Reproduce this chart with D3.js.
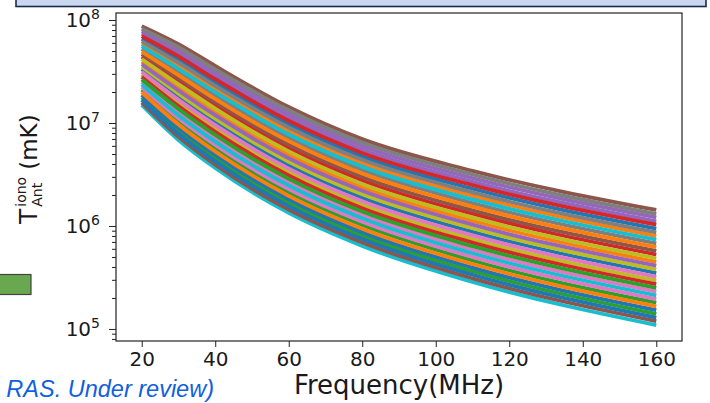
<!DOCTYPE html>
<html>
<head>
<meta charset="utf-8">
<script src="https://cdn.jsdelivr.net/npm/d3@7"></script>
<style>
  body { margin: 0; background: #fff; }
  svg { display: block; font-family: "DejaVu Sans", sans-serif; }
</style>
</head>
<body>
<svg id="chart" width="710" height="403"></svg>
<script>
var freqs = [20, 30, 40, 60, 80, 110, 160];

// T_Ant^iono (mK), one row per curve, in plotting order
var tAnt = [
  [3.32e7, 1.80e7, 1.02e7, 3.90e6, 1.88e6, 8.78e5, 3.49e5],
  [5.86e7, 3.60e7, 2.14e7, 8.38e6, 4.07e6, 1.96e6, 7.99e5],
  [2.10e7, 1.04e7, 5.69e6, 2.12e6, 1.02e6, 4.62e5, 1.80e5],
  [4.41e7, 2.54e7, 1.48e7, 5.72e6, 2.77e6, 1.31e6, 5.28e5],
  [7.36e7, 4.74e7, 2.87e7, 1.14e7, 5.53e6, 2.69e6, 1.11e6],
  [8.72e7, 5.83e7, 3.58e7, 1.43e7, 6.97e6, 3.43e6, 1.43e6],
  [2.50e7, 1.27e7, 7.09e6, 2.66e6, 1.28e6, 5.88e5, 2.31e5],
  [5.23e7, 3.13e7, 1.85e7, 7.19e6, 3.49e6, 1.67e6, 6.77e5],
  [2.96e7, 1.57e7, 8.85e6, 3.35e6, 1.61e6, 7.48e5, 2.96e5],
  [1.50e7, 6.84e6, 3.66e6, 1.34e6, 6.40e5, 2.86e5, 1.09e5],
  [6.57e7, 4.13e7, 2.48e7, 9.77e6, 4.74e6, 2.30e6, 9.44e5],
  [3.93e7, 2.22e7, 1.28e7, 4.91e6, 2.37e6, 1.12e6, 4.48e5],
  [1.77e7, 8.42e6, 4.56e6, 1.68e6, 8.06e5, 3.64e5, 1.40e5],
  [2.80e7, 1.46e7, 8.22e6, 3.10e6, 1.49e6, 6.90e5, 2.72e5],
  [7.79e7, 5.08e7, 3.09e7, 1.23e7, 5.98e6, 2.92e6, 1.21e6],
  [4.67e7, 2.73e7, 1.59e7, 6.17e6, 2.99e6, 1.42e6, 5.74e5],
  [2.23e7, 1.11e7, 6.12e6, 2.28e6, 1.10e6, 5.01e5, 1.95e5],
  [8.24e7, 5.44e7, 3.32e7, 1.33e7, 6.46e6, 3.16e6, 1.31e6],
  [3.51e7, 1.93e7, 1.10e7, 4.21e6, 2.03e6, 9.51e5, 3.79e5],
  [5.54e7, 3.36e7, 1.99e7, 7.77e6, 3.77e6, 1.81e6, 7.36e5],
  [1.88e7, 9.02e6, 4.91e6, 1.82e6, 8.71e5, 3.94e5, 1.52e5],
  [4.94e7, 2.92e7, 1.71e7, 6.66e6, 3.23e6, 1.54e6, 6.23e5],
  [2.64e7, 1.37e7, 7.64e6, 2.87e6, 1.38e6, 6.37e5, 2.51e5],
  [6.95e7, 4.43e7, 2.66e7, 1.05e7, 5.12e6, 2.49e6, 1.03e6],
  [3.72e7, 2.07e7, 1.19e7, 4.55e6, 2.20e6, 1.03e6, 4.12e5],
  [1.58e7, 7.33e6, 3.94e6, 1.44e6, 6.91e5, 3.10e5, 1.19e5],
  [3.13e7, 1.68e7, 9.52e6, 3.61e6, 1.74e6, 8.10e5, 3.21e5],
  [6.20e7, 3.85e7, 2.30e7, 9.05e6, 4.39e6, 2.12e6, 8.68e5],
  [4.17e7, 2.38e7, 1.38e7, 5.30e6, 2.56e6, 1.21e6, 4.86e5],
  [2.36e7, 1.19e7, 6.59e6, 2.47e6, 1.19e6, 5.43e5, 2.12e5],
  [1.68e7, 7.86e6, 4.24e6, 1.56e6, 7.46e5, 3.36e5, 1.29e5],
  [1.99e7, 9.67e6, 5.29e6, 1.96e6, 9.40e5, 4.27e5, 1.66e5]
];

var xTicks = [20, 40, 60, 80, 100, 120, 140, 160];
var yTicks = [1e5, 1e6, 1e7, 1e8];
var yExp = ["5", "6", "7", "8"];

var svgWidth = 710, svgHeight = 403;
var margin = { top: 13, right: 28, bottom: 62, left: 116 };
var width = svgWidth - margin.left - margin.right;
var height = svgHeight - margin.top - margin.bottom;

var svg = d3.select("#chart");

// slide decorations around the figure
svg.append("rect")
  .attr("x", 16).attr("y", -4).attr("width", 690).attr("height", 10.5)
  .attr("fill", "#c9d8f0").attr("stroke", "#1c2a4a").attr("stroke-width", 1.6);

svg.append("rect")
  .attr("x", -2).attr("y", 274.5).attr("width", 33).attr("height", 20)
  .attr("fill", "#6aa84f").attr("stroke", "#444").attr("stroke-width", 1.2);

svg.append("text")
  .attr("x", 214).attr("y", 397)
  .attr("text-anchor", "end")
  .attr("font-family", "'Liberation Sans', Arial, sans-serif")
  .attr("font-style", "italic")
  .attr("font-size", 23.5)
  .attr("fill", "#1160dc")
  .text("RAS. Under review)");

var chart = svg.append("g")
  .attr("transform", "translate(" + margin.left + "," + margin.top + ")");

var xScale = d3.scaleLinear().domain([13, 167]).range([0, width]);
var yScale = d3.scaleLog().domain([7.64e4, 1.17e8]).range([height, 0]);

var color = d3.scaleOrdinal(d3.schemeCategory10);

var line = d3.line()
  .x(function(d, i) { return xScale(freqs[i]); })
  .y(function(d) { return yScale(d); })
  .curve(d3.curveMonotoneX);

chart.selectAll(".curve")
  .data(tAnt)
  .enter().append("path")
    .attr("class", "curve")
    .attr("d", line)
    .attr("fill", "none")
    .attr("stroke", function(d, i) { return color(i); })
    .attr("stroke-width", 3.8);

// x axis
var xAxis = chart.append("g")
  .attr("transform", "translate(0," + height + ")")
  .call(d3.axisBottom(xScale).tickValues(xTicks).tickSizeOuter(0).tickSize(6).tickPadding(5));
xAxis.selectAll("text").attr("font-size", 20).attr("fill", "#1a1a1a")
  .attr("font-family", "'DejaVu Sans', sans-serif");

// y axis, minor ticks first
var minor = yScale.ticks().filter(function(v) { return yTicks.indexOf(v) < 0; });
chart.append("g")
  .call(d3.axisLeft(yScale).tickValues(minor).tickSize(4).tickSizeOuter(0).tickFormat(""));

var yAxis = chart.append("g")
  .call(d3.axisLeft(yScale).tickValues(yTicks).tickSize(7).tickSizeOuter(0).tickPadding(9).tickFormat(""));
yAxis.selectAll(".tick text").each(function(d, i) {
  var t = d3.select(this)
    .attr("font-size", 20).attr("fill", "#1a1a1a")
    .attr("font-family", "'DejaVu Sans', sans-serif");
  t.append("tspan").text("10");
  t.append("tspan").attr("font-size", 14).attr("dy", "-0.55em").text(yExp[i]);
});

chart.selectAll(".domain").remove();
chart.selectAll(".tick line").attr("stroke", "#222");

// frame
chart.append("rect")
  .attr("width", width).attr("height", height)
  .attr("fill", "none").attr("stroke", "#222").attr("stroke-width", 1.2);

// axis labels
svg.append("text")
  .attr("x", margin.left + width / 2).attr("y", 394)
  .attr("text-anchor", "middle")
  .attr("font-size", 26).attr("fill", "#1a1a1a")
  .text("Frequency(MHz)");

var yLab = svg.append("g").attr("transform", "translate(37,224) rotate(-90)");
var tT = yLab.append("text").attr("font-size", 25).attr("fill", "#1a1a1a").text("T");
var tw = tT.node().getComputedTextLength() + 2;
var sup = yLab.append("text").attr("x", tw).attr("y", -11)
  .attr("font-size", 14).attr("fill", "#1a1a1a").text("iono");
var sub = yLab.append("text").attr("x", tw).attr("y", 5)
  .attr("font-size", 14).attr("fill", "#1a1a1a").text("Ant");
var sw = Math.max(sup.node().getComputedTextLength(), sub.node().getComputedTextLength());
yLab.append("text").attr("x", tw + sw + 7)
  .attr("font-size", 23).attr("fill", "#1a1a1a").text("(mK)");
</script>
</body>
</html>
